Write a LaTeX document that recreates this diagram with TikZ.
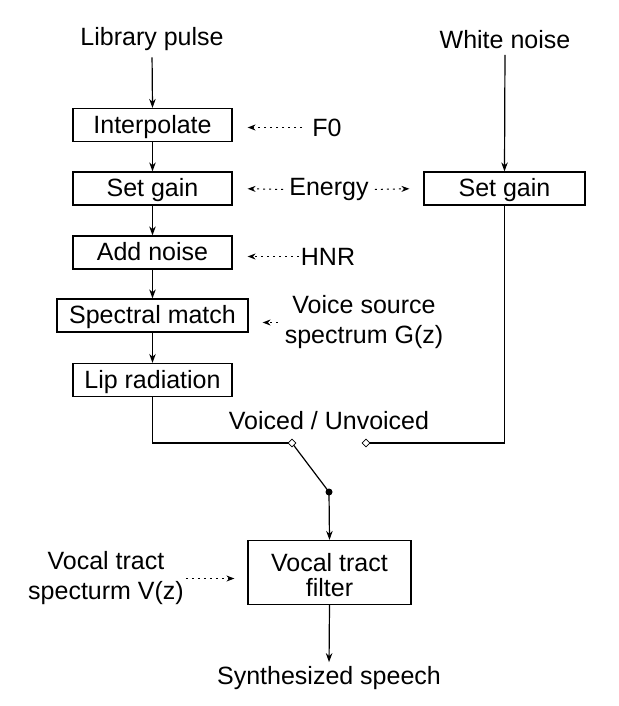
\documentclass[tikz,border=0pt]{standalone}
\usepackage{fontspec}
\setmainfont{Liberation Sans}
\usetikzlibrary{arrows.meta,shapes.geometric}
\begin{document}
\begin{tikzpicture}[x=1pt,y=-1pt,
  txt/.style={font=\fontsize{25}{30}\selectfont, inner sep=0pt, align=center},
  box/.style={font=\fontsize{25}{30}\selectfont, inner sep=0pt, draw, line width=1.2pt, minimum width=159pt, minimum height=33pt, text height=20pt, text depth=4pt},
  line/.style={line width=1.2pt},
  conn/.style={line, -{Stealth[length=9pt,width=6.5pt]}},
  dots/.style={line width=1pt, dash pattern=on 2pt off 4pt, -{Stealth[length=8pt,width=6pt]}},
  sw/.style={diamond, draw, line width=0.8pt, fill=white, inner sep=0pt, minimum size=8pt},
  pivot/.style={circle, fill=black, inner sep=0pt, minimum size=7pt}]
\useasboundingbox (0,0) rectangle (618,706);

\node[txt] (lp) at (152,39.5) {Library pulse};
\node[txt] (wn) at (505,39.5) {White noise};

\node[box] (interp) at (152.5,125) {Interpolate};
\node[box] (sg1) at (152.5,188.5) {Set gain};
\node[box, minimum width=161pt] (sg2) at (504.5,188.5) {Set gain};
\node[box] (addn) at (152.5,252.5) {Add noise};
\node[box, minimum width=191pt] (spec) at (152.5,315.5) {Spectral match};
\node[box] (lip) at (152.5,380) {Lip radiation};
\node[box, font=\fontsize{25}{25}\selectfont, align=center, minimum width=163pt, minimum height=64pt, text height=48pt, text depth=0pt] (vtf) at (329.5,572.5) {Vocal tract\\filter};

\node[txt] (f0) at (327,127.5) {F0};
\node[txt] (en) at (329,189.5) {Energy};
\node[txt] (hnr) at (328,256.5) {HNR};
\node[txt] (vs) at (364,322.5) {Voice source\\spectrum G(z)};
\node[txt] (vt) at (106,578.5) {Vocal tract\\specturm V(z)};
\node[txt] (vu) at (329,420.5) {Voiced / Unvoiced};
\node[txt] (ss) at (329,678) {Synthesized speech};

\coordinate (d1) at (292,443);
\coordinate (d2) at (366,443);
\coordinate (pv) at (329,492);

% main chain
\draw[conn, shorten <=6pt] (lp.south) -- (interp.north);
\draw[conn] (interp.south) -- (sg1.north);
\draw[conn] (sg1.south) -- (addn.north);
\draw[conn] (addn.south) -- (spec.north);
\draw[conn] (spec.south) -- (lip.north);
\draw[conn, shorten <=6pt] (wn.south) -- (sg2.north);

% parameter inputs
\draw[dots, shorten <=10pt, shorten >=15pt] (f0.west) -- (f0.west -| interp.east);
\draw[dots, shorten <=6pt, shorten >=15pt] (en.west) -- (sg1.east);
\draw[dots, shorten <=6pt, shorten >=14pt] (en.east) -- (sg2.west);
\draw[dots, shorten <=2pt, shorten >=15pt] (hnr.west) -- (hnr.west -| addn.east);
\draw[dots, shorten <=7pt, shorten >=14pt] (vs.west) -- (vs.west -| spec.east);
\draw[dots, shorten <=2pt, shorten >=13pt] (vt.east) -- (vt.east -| vtf.west);

% switch
\draw[line] (lip.south) |- (d1);
\draw[line] (sg2.south) |- (d2);
\draw[line] (d1) -- (pv);
\draw[conn] (pv) -- (vtf.north);
\node[sw] at (d1) {};
\node[sw] at (d2) {};
\node[pivot] at (pv) {};

\draw[conn, shorten >=4pt] (vtf.south) -- (ss.north);
\end{tikzpicture}
\end{document}
